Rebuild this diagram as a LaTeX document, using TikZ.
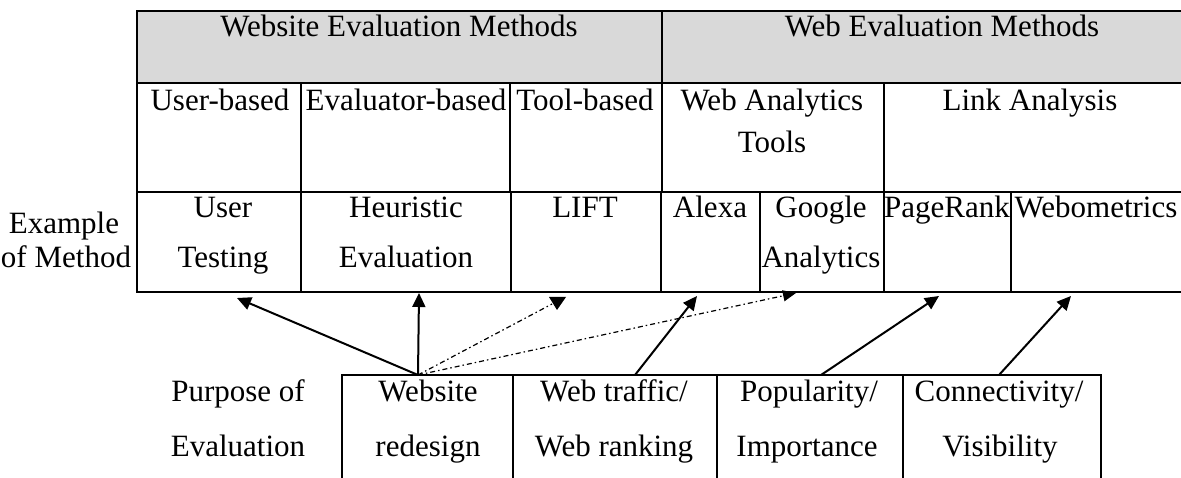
\documentclass[tikz,border=0pt]{standalone}
\usepackage{fontspec}
\setmainfont{Liberation Serif}
\usetikzlibrary{arrows.meta,fit}
\definecolor{hdr}{RGB}{217,217,217}
\begin{document}
\begin{tikzpicture}[x=1pt,y=-1pt,
  cell/.style={draw, line width=2pt, inner sep=0pt},
  hcell/.style={cell, fill=hdr},
  txt/.style={anchor=base, inner sep=0pt, font=\fontsize{31}{37}\selectfont},
  arr/.style={line width=2pt, -{Triangle[length=14pt,width=13pt]}},
  ddline/.style={line width=1.2pt, dash pattern=on 5pt off 3pt on 1.5pt off 3pt},
  ddarr/.style={ddline, -{Triangle[length=13pt,width=11pt]}}]
\useasboundingbox (0,0) rectangle (1181,478);
\clip (0,0) rectangle (1181,478);
% header row
\node[hcell, fit={(137,11)(662,83)}] (hA) {};
\node[hcell, fit={(662,11)(1200,83)}] (hB) {};
% second row
\node[cell, fit={(137,83)(301,192)}] (cU) {};
\node[cell, fit={(301,83)(510,192)}] (cE) {};
\node[cell, fit={(510,83)(662,192)}] (cT) {};
\node[cell, fit={(662,83)(884,192)}] (cW) {};
\node[cell, fit={(884,83)(1200,192)}] (cL) {};
% third row
\node[cell, fit={(137,192)(301,292)}] (mUT) {};
\node[cell, fit={(301,192)(511,292)}] (mHE) {};
\node[cell, fit={(511,192)(661,292)}] (mLI) {};
\node[cell, fit={(661,192)(760,292)}] (mAL) {};
\node[cell, fit={(760,192)(884,292)}] (mGA) {};
\node[cell, fit={(884,192)(1011,292)}] (mPR) {};
\node[cell, fit={(1011,192)(1200,292)}] (mWM) {};
% bottom boxes
\node[cell, fit={(342,375)(513,500)}] (bW) {};
\node[cell, fit={(513,375)(717,500)}] (bT) {};
\node[cell, fit={(717,375)(903,500)}] (bP) {};
\node[cell, fit={(903,375)(1101,500)}] (bC) {};
% texts
\node[txt] (t1) at (399,37) {Website Evaluation Methods};
\node[txt] (t2) at (942,37) {Web Evaluation Methods};
\node[txt] (t3) at (220,111) {User-based};
\node[txt] (t4) at (406,111) {Evaluator-based};
\node[txt] (t5) at (585,111) {Tool-based};
\node[txt] (t6) at (772,111) {Web Analytics};
\node[txt] (t7) at (772,153) {Tools};
\node[txt] (t8) at (1030,111) {Link Analysis};
\node[txt] (t9) at (223,218) {User};
\node[txt] (t10) at (223,268) {Testing};
\node[txt] (t11) at (406,218) {Heuristic};
\node[txt] (t12) at (406,268) {Evaluation};
\node[txt] (t13) at (585,218) {LIFT};
\node[txt] (t14) at (710,218) {Alexa};
\node[txt] (t15) at (821,218) {Google};
\node[txt] (t16) at (821,268) {Analytics};
\node[txt] (t17) at (947,218) {PageRank};
\node[txt] (t18) at (1096,218) {Webometrics};
\node[txt] (t19) at (64,234) {Example};
\node[txt] (t20) at (66,268) {of Method};
\node[txt] (t21) at (238,401) {Purpose of};
\node[txt] (t22) at (238,456) {Evaluation};
\node[txt] (t23) at (428,401) {Website};
\node[txt] (t24) at (428,456) {redesign};
\node[txt] (t25) at (614,401) {Web traffic/};
\node[txt] (t26) at (614,456) {Web ranking};
\node[txt] (t27) at (809,401) {Popularity/};
\node[txt] (t28) at (807,456) {Importance};
\node[txt] (t29) at (999,401) {Connectivity/};
\node[txt] (t30) at (1000,456) {Visibility};
% connector end points
\coordinate (sW) at (418,375);
\coordinate (sT) at (635,375);
\coordinate (sP) at (821,375);
\coordinate (sC) at (999,375);
\coordinate (eUT) at (237,298);
\coordinate (eHE) at (419,293);
\coordinate (eLI) at (552,304);
\coordinate (eAL) at (697,296);
\coordinate (eGA) at (796,293);
\coordinate (ePR) at (939,296);
\coordinate (eWM) at (1071,296);
% connectors
\draw[arr] (sW) -- (eUT);
\draw[arr] (sW) -- (eHE);
\draw[ddline] (sW) -- (eLI);
\fill (549,297) -- (566,297) -- (557,310) -- cycle;
\draw[ddarr] (sW) -- (eGA);
\draw[arr] (sT) -- (eAL);
\draw[arr] (sP) -- (ePR);
\draw[arr] (sC) -- (eWM);
\end{tikzpicture}
\end{document}
